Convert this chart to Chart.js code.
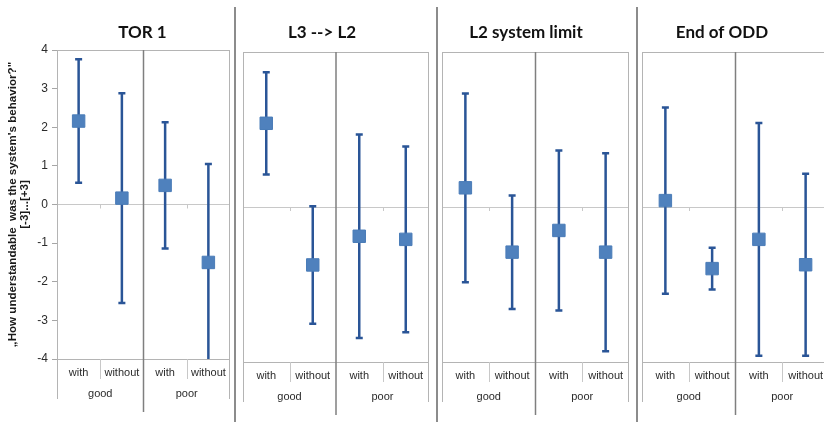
<!DOCTYPE html>
<html>
<head>
<meta charset="utf-8">
<script src="https://cdn.jsdelivr.net/npm/chart.js@4.4.1/dist/chart.umd.min.js"></script>
<style>
    body { margin: 0; background: #fff; }
    #wrap { position: relative; width: 824px; height: 422px; overflow: hidden; background: #fff; }
    #wrap canvas { position: absolute; top: 0; }
    .sep { position: absolute; top: 7px; width: 2px; height: 415px; background: #8c8c8c; }
</style>
</head>
<body>
<div id="wrap">
    <canvas id="p0" width="234" height="422" style="left:0px"></canvas>
    <canvas id="p1" width="200" height="422" style="left:237px"></canvas>
    <canvas id="p2" width="198" height="422" style="left:439px"></canvas>
    <canvas id="p3" width="200" height="422" style="left:639px"></canvas>
    <div class="sep" style="left:234px"></div>
    <div class="sep" style="left:436px"></div>
    <div class="sep" style="left:636px"></div>
</div>
<script>
// =======================
// Data
// =======================
const categories = ["with", "without", "with", "without"];
const groups = ["good", "poor"];
const panelTitles = ["TOR 1", "L3 --> L2", "L2 system limit", "End of ODD"];
const yTicks = [-4, -3, -2, -1, 0, 1, 2, 3, 4];

// mean and standard deviation, order: good/with, good/without, poor/with, poor/without
const torMeans = [2.16, 0.165, 0.495, -1.50];
const torSd = [1.60, 2.715, 1.635, 2.55];
const l3Means = [2.16, -1.495, -0.755, -0.835];
const l3Sd = [1.32, 1.515, 2.625, 2.395];
const l2Means = [0.495, -1.165, -0.605, -1.165];
const l2Sd = [2.435, 1.465, 2.065, 2.555];
const oddMeans = [0.165, -1.59, -0.835, -1.49];
const oddSd = [2.405, 0.54, 3.005, 2.35];

const allMeans = [torMeans, l3Means, l2Means, oddMeans];
const allSd = [torSd, l3Sd, l2Sd, oddSd];

// =======================
// Layout of the four panels
// =======================
const panels = [
    { left: 0, yWidth: 57, padRight: 4, top: 50, xHeight: 63, titleX: 142.5 },
    { left: 237, yWidth: 6, padRight: 8, top: 52, xHeight: 60, titleX: 322 },
    { left: 439, yWidth: 3, padRight: 8, top: 52, xHeight: 60, titleX: 526 },
    { left: 639, yWidth: 3, padRight: 10, top: 52, xHeight: 60, titleX: 722 }
];

const labelFont = "11px 'Liberation Sans', Arial, sans-serif";
const barColor = '#2a5597';

function makeDecor(p, title, means, sd) {
    return {
        id: 'decor',
        beforeDatasetsDraw(chart) {
            const { ctx, chartArea: a, scales: { x, y } } = chart;
            // error bars
            ctx.save();
            ctx.beginPath();
            ctx.rect(a.left, a.top, a.right - a.left, a.bottom - a.top);
            ctx.clip();
            ctx.strokeStyle = barColor;
            ctx.lineWidth = 2.5;
            means.forEach((m, i) => {
                const px = x.getPixelForValue(i);
                const hi = y.getPixelForValue(m + sd[i]);
                const lo = y.getPixelForValue(m - sd[i]);
                ctx.beginPath();
                ctx.moveTo(px, hi);
                ctx.lineTo(px, lo);
                ctx.moveTo(px - 3.5, hi);
                ctx.lineTo(px + 3.5, hi);
                ctx.moveTo(px - 3.5, lo);
                ctx.lineTo(px + 3.5, lo);
                ctx.stroke();
            });
            ctx.restore();

            // plot box and category lines
            const band = (x.getPixelForValue(1) - x.getPixelForValue(0));
            const mid = (x.getPixelForValue(1) + x.getPixelForValue(2)) / 2;
            ctx.save();
            ctx.lineWidth = 1;
            ctx.strokeStyle = '#b4b4b4';
            ctx.strokeRect(a.left + 0.5, a.top + 0.5, a.right - a.left - 1, a.bottom - a.top);
            ctx.beginPath();
            ctx.moveTo(a.left + 0.5, a.bottom);
            ctx.lineTo(a.left + 0.5, a.bottom + 40);
            ctx.moveTo(a.right - 0.5, a.bottom);
            ctx.lineTo(a.right - 0.5, a.bottom + 40);
            ctx.stroke();
            ctx.strokeStyle = '#c8c8c8';
            ctx.beginPath();
            [0, 2].forEach(i => {
                const bx = Math.round(x.getPixelForValue(i) + band / 2) + 0.5;
                ctx.moveTo(bx, a.bottom);
                ctx.lineTo(bx, a.bottom + 20);
                const zy = y.getPixelForValue(0);
                ctx.moveTo(bx, zy);
                ctx.lineTo(bx, zy + 4);
            });
            ctx.stroke();
            ctx.strokeStyle = '#7f7f7f';
            ctx.lineWidth = 1.5;
            ctx.beginPath();
            ctx.moveTo(mid, a.top);
            ctx.lineTo(mid, a.bottom + 53);
            ctx.stroke();

            // category and group labels
            ctx.fillStyle = '#2b2b2b';
            ctx.font = labelFont;
            ctx.textAlign = 'center';
            ctx.textBaseline = 'middle';
            categories.forEach((c, i) => {
                ctx.fillText(c, x.getPixelForValue(i), a.bottom + 14);
            });
            groups.forEach((g, k) => {
                const gx = (x.getPixelForValue(2 * k) + x.getPixelForValue(2 * k + 1)) / 2;
                ctx.fillText(g, gx, a.bottom + 35);
            });

            // panel title
            ctx.fillStyle = '#111';
            ctx.font = "bold 17px Lato, 'Open Sans', sans-serif";
            ctx.fillText(title, p.titleX - p.left, 33);
            ctx.restore();
        }
    };
}

panels.forEach((p, n) => {
    const first = n === 0;
    new Chart(document.querySelector('#p' + n), {
        type: 'line',
        data: {
            labels: categories,
            datasets: [{
                data: allMeans[n],
                showLine: false,
                pointStyle: 'rect',
                pointRadius: 8.8,
                pointHoverRadius: 8.8,
                pointBackgroundColor: '#4f81bd',
                pointBorderColor: '#4a7cb8',
                pointBorderWidth: 1
            }]
        },
        options: {
            responsive: false,
            animation: false,
            events: [],
            layout: {
                autoPadding: false,
                padding: { top: p.top, right: p.padRight, left: 0, bottom: 0 }
            },
            plugins: {
                legend: { display: false },
                tooltip: { enabled: false }
            },
            scales: {
                x: {
                    offset: true,
                    grid: { display: false, drawTicks: false },
                    border: { display: false },
                    ticks: { display: false },
                    afterFit: s => { s.height = p.xHeight; }
                },
                y: {
                    min: -4,
                    max: 4,
                    afterBuildTicks: s => { s.ticks = yTicks.map(v => ({ value: v })); },
                    ticks: {
                        display: first,
                        padding: 4,
                        font: { family: "'Liberation Sans', Arial, sans-serif", size: 12 },
                        color: '#2b2b2b'
                    },
                    grid: {
                        color: c => c.tick && c.tick.value === 0 ? '#c8c8c8' : 'rgba(0,0,0,0)',
                        tickColor: '#a6a6a6',
                        tickLength: 5,
                        drawTicks: first
                    },
                    border: { display: false },
                    title: {
                        display: first,
                        text: ['\u201EHow understandable  was the system\'s behavior?"', '[-3]...[+3]'],
                        font: { family: "'Liberation Sans', Arial, sans-serif", size: 11.6, weight: 'bold', lineHeight: 1.05 },
                        color: '#1a1a1a',
                        padding: { top: 7, bottom: 0 }
                    },
                    afterFit: s => { s.width = p.yWidth; }
                }
            }
        },
        plugins: [makeDecor(p, panelTitles[n], allMeans[n], allSd[n])]
    });
});
</script>
</body>
</html>
